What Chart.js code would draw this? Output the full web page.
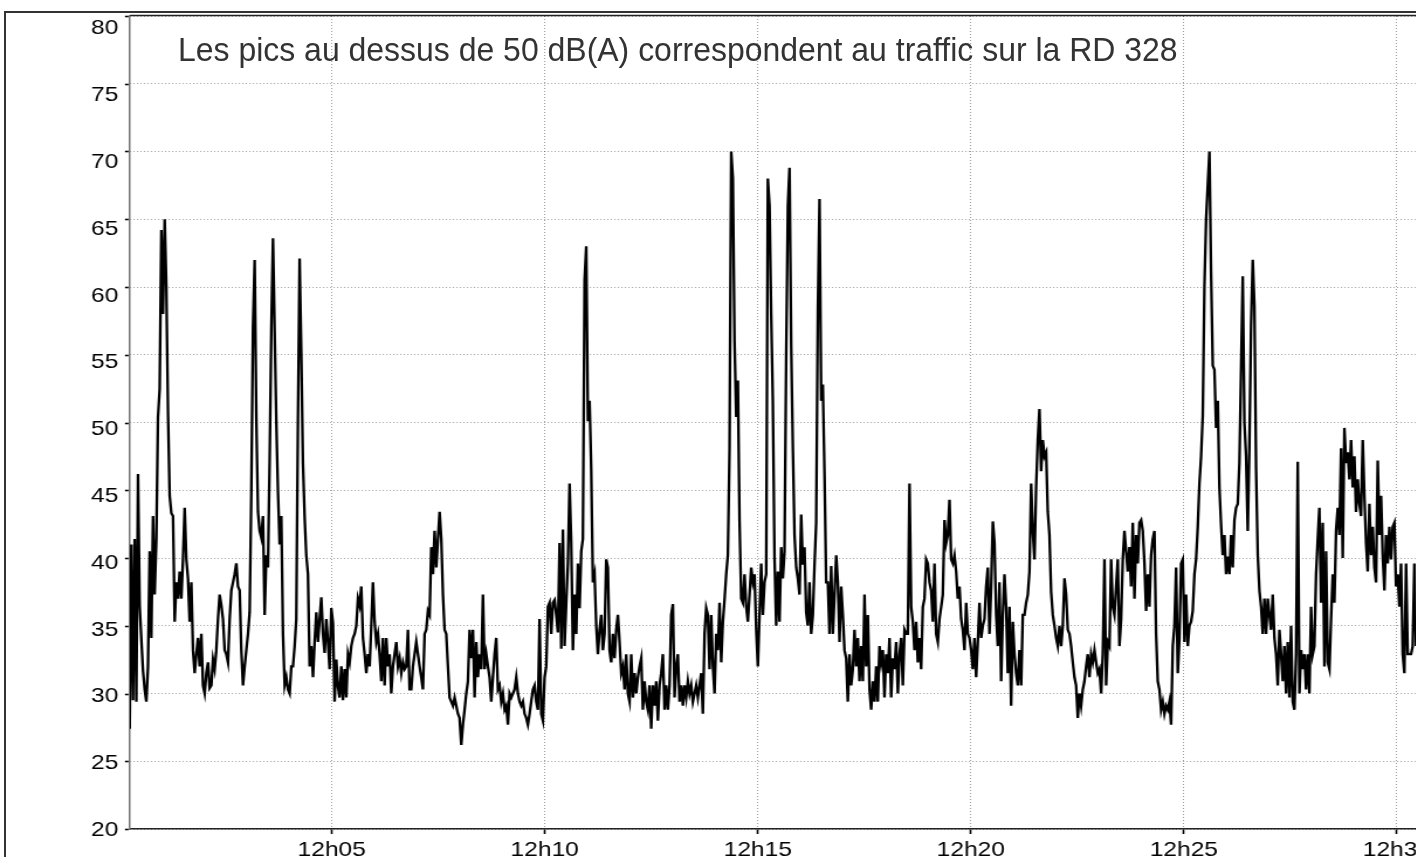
<!DOCTYPE html>
<html>
<head>
<meta charset="utf-8">
<script src="https://cdn.jsdelivr.net/npm/chart.js@4.4.1/dist/chart.umd.min.js"></script>
<style>
  html, body { margin: 0; padding: 0; background: #fff; }
  #page { position: relative; width: 1416px; height: 857px; overflow: hidden; background: #fff; }
  #frame { position: absolute; left: 4px; top: 11px; width: 1500px; height: 900px;
           border-left: 2px solid #333; border-top: 2px solid #333; }
  #plot { position: absolute; left: 0; top: 0; transform-origin: 0 0; }
  #title { position: absolute; left: 178px; top: 32px; font-family: "Liberation Sans", Arial, sans-serif;
           font-size: 34px; line-height: 34px; color: #333; white-space: nowrap;
           transform: scaleX(0.94); transform-origin: 0 0; }
</style>
</head>
<body>
<div id="page">
  <div id="frame"></div>
  <canvas id="plot"></canvas>
  <div id="title">Les pics au dessus de 50 dB(A) correspondent au traffic sur la RD 328</div>
</div>
<script>
// sound level dB(A), one reading every 2.35 s from 12h00m15.6s
const startSec = 15.58;
const stepSec = 2.3463;

const levels = [
  // 12h00 - 12h05
  27.4, 41.0, 29.5, 41.4, 29.4, 46.2, 36.5, 34.0, 31.7, 30.3,
  29.4, 32.0, 40.5, 34.1, 43.1, 37.3, 41.4, 50.4, 52.5, 64.2,
  58.0, 65.0, 60.0, 50.7, 44.6, 43.3, 43.1, 35.3, 38.2, 37.0,
  39.0, 37.0, 39.9, 43.7, 39.9, 38.5, 35.3, 38.2, 33.2, 31.5,
  32.9, 34.1, 32.0, 34.4, 30.6, 30.0, 31.5, 32.3, 30.4, 30.6,
  32.5, 31.8, 33.2, 35.5, 37.3, 36.5, 35.5, 33.2, 32.9, 32.3,
  35.5, 37.6, 38.2, 38.8, 39.6, 37.9, 37.6, 33.2, 30.6, 32.0,
  33.2, 34.4, 36.0, 45.0, 57.0, 62.0, 50.4, 43.4, 42.0, 41.5,
  43.1, 35.8, 40.2, 39.3, 47.2, 56.8, 63.6, 56.8, 50.0, 44.9,
  41.0, 43.1, 34.4, 30.6, 31.2, 30.3, 30.0, 32.0, 32.0, 33.5,
  35.5, 50.4, 62.1, 55.0, 47.0, 43.0, 40.2, 38.8, 32.0, 33.5,
  31.2, 33.8, 36.0, 33.8, 35.5, 37.1, 34.4, 33.0, 35.5, 33.8,
  31.8, 36.3, 35.2, 29.4, 32.5, 30.5, 29.7, 32.0,
  // 12h05 - 12h10
  29.5, 31.8, 29.7, 32.9, 32.3, 33.5, 34.1, 34.4, 35.0, 37.0,
  36.5, 37.9, 34.1, 32.9, 31.5, 32.9, 32.0, 35.0, 38.2, 35.3,
  33.8, 34.4, 32.9, 30.9, 34.1, 30.6, 34.1, 32.0, 32.9, 30.0,
  32.0, 32.9, 33.8, 32.0, 32.6, 31.5, 32.3, 31.8, 32.0, 34.7,
  30.3, 30.3, 32.0, 32.9, 33.8, 32.9, 32.0, 31.2, 30.3, 34.4,
  34.7, 36.1, 35.8, 40.8, 38.8, 42.0, 39.3, 41.4, 43.4, 41.4,
  37.3, 34.7, 34.4, 32.0, 29.7, 29.4, 29.1, 29.7, 29.1, 28.5,
  28.2, 26.2, 27.7, 28.8, 30.0, 30.9, 34.7, 32.6, 34.7, 29.7,
  33.8, 31.2, 32.9, 31.8, 37.3, 31.8, 32.9, 32.0, 31.2, 29.4,
  31.2, 32.9, 34.1, 30.3, 30.6, 29.4, 30.0, 28.8, 29.1, 27.7,
  30.0, 29.7, 30.0, 30.3, 31.2, 30.0, 29.4, 29.1, 29.4, 28.5,
  28.2, 27.7, 28.5, 29.4, 30.3, 30.6, 29.4, 28.8, 35.5, 28.5,
  28.0, 31.2, 32.0, 36.4, 36.7, 34.4, 36.7, 36.9, 35.8,
  // 12h10 - 12h15
  34.5, 41.1, 33.3, 42.1, 33.5, 36.7, 39.6, 45.5, 41.1, 33.2,
  37.3, 34.4, 39.6, 36.3, 40.5, 41.4, 60.5, 63.0, 50.1, 51.6,
  46.5, 38.2, 38.8, 35.0, 32.9, 34.7, 35.8, 33.2, 34.4, 39.9,
  39.3, 33.2, 32.3, 34.4, 32.6, 34.7, 35.8, 33.8, 31.5, 32.0,
  30.3, 32.9, 30.0, 29.4, 32.9, 29.7, 31.5, 30.0, 31.2, 32.0,
  32.6, 28.8, 30.9, 29.4, 28.8, 30.6, 27.4, 30.6, 29.1, 30.9,
  28.0, 30.6, 31.5, 32.9, 28.8, 30.6, 28.8, 30.6, 35.8, 36.6,
  29.7, 32.0, 32.9, 29.4, 30.6, 29.1, 30.6, 29.7, 30.9, 30.0,
  30.6, 29.4, 30.0, 30.6, 29.7, 30.6, 31.5, 28.5, 34.4, 36.3,
  35.8, 31.8, 35.8, 32.0, 30.0, 34.4, 33.2, 36.7, 32.3, 35.3,
  36.9, 38.8, 40.2, 48.1, 70.0, 68.0, 56.0, 50.4, 53.1, 42.8,
  37.0, 36.7, 38.8, 36.4, 35.3, 37.3, 39.3, 38.2, 38.8, 34.7,
  32.0, 35.8, 39.6, 35.8, 38.2, 38.8, 68.0, 66.0, 58.0,
  // 12h15 - 12h20
  51.5, 40.0, 35.0, 39.0, 35.3, 40.8, 38.5, 40.5, 55.0, 66.0,
  68.8, 55.7, 48.1, 41.7, 39.3, 38.5, 37.3, 43.2, 39.5, 40.8,
  36.0, 35.0, 38.2, 34.4, 35.8, 39.5, 42.6, 58.3, 66.5, 51.6,
  52.8, 46.1, 38.2, 38.2, 34.4, 39.4, 34.4, 37.3, 40.2, 38.2,
  33.8, 37.9, 35.8, 33.2, 32.6, 29.4, 32.9, 30.6, 31.8, 34.7,
  32.0, 34.1, 30.9, 33.5, 30.9, 37.3, 32.0, 35.8, 30.3, 28.8,
  30.9, 29.4, 32.0, 29.4, 33.5, 32.3, 33.2, 29.7, 32.9, 31.5,
  34.1, 29.7, 32.6, 31.8, 33.8, 30.0, 32.9, 34.1, 30.6, 34.7,
  34.4, 34.4, 45.5, 36.4, 35.3, 33.2, 35.3, 32.3, 34.1, 31.8,
  36.4, 37.0, 39.9, 39.6, 38.2, 37.6, 35.3, 39.6, 34.4, 33.8,
  35.5, 36.4, 37.3, 42.8, 41.1, 41.7, 44.3, 39.9, 39.6, 40.2,
  39.0, 37.0, 37.9, 35.5, 34.7, 33.2, 36.7, 34.4, 34.1, 33.2,
  31.8, 34.1, 31.2, 33.8, 36.7, 34.1, 35.0, 35.5, 37.9,
  // 12h20 - 12h25
  39.3, 34.4, 37.9, 42.7, 41.1, 35.8, 33.5, 38.2, 30.9, 35.8,
  38.8, 36.4, 31.5, 36.4, 29.1, 35.3, 32.9, 31.5, 30.6, 33.2,
  30.6, 35.8, 35.8, 36.7, 37.3, 39.0, 45.5, 42.0, 39.9, 45.2,
  48.7, 51.0, 46.4, 48.7, 47.5, 47.8, 43.4, 41.7, 37.5, 35.8,
  35.0, 34.1, 33.5, 35.0, 33.5, 35.0, 38.5, 37.3, 34.7, 34.4,
  33.5, 32.3, 31.2, 30.6, 28.2, 30.0, 29.1, 30.3, 30.9, 32.0,
  32.9, 31.2, 32.9, 32.3, 33.2, 32.3, 31.5, 31.8, 30.0, 32.9,
  39.9, 30.6, 33.8, 33.5, 39.9, 36.4, 35.8, 37.9, 39.9, 33.5,
  35.5, 39.9, 42.0, 40.5, 39.0, 40.8, 37.9, 42.6, 37.0, 41.7,
  39.6, 42.6, 42.8, 42.0, 39.6, 36.1, 38.8, 36.4, 40.2, 41.4,
  42.0, 34.4, 30.9, 30.3, 28.8, 29.4, 28.5, 29.1, 28.8, 29.4,
  27.7, 33.5, 35.0, 39.3, 31.5, 34.1, 39.6, 39.9, 33.8, 37.3,
  33.5, 35.0, 35.3, 36.1, 38.8, 39.9, 42.3, 45.5, 47.5,
  // 12h25 - 12h30
  50.5, 60.0, 65.0, 67.5, 70.0, 61.0, 54.2, 53.9, 49.6, 51.6,
  45.2, 42.4, 40.2, 41.7, 38.8, 40.1, 38.8, 41.7, 39.3, 42.8,
  43.7, 44.0, 47.0, 54.0, 60.8, 50.0, 47.5, 42.0, 48.4, 57.2,
  62.0, 58.6, 46.6, 40.2, 37.6, 36.4, 34.4, 37.0, 34.4, 37.0,
  35.8, 34.7, 37.3, 34.1, 32.9, 30.6, 34.7, 32.9, 30.9, 33.5,
  30.0, 33.8, 29.7, 35.0, 29.4, 28.8, 32.9, 47.1, 30.0, 33.2,
  31.8, 32.9, 30.3, 32.9, 30.0, 36.4, 32.9, 33.5, 38.8, 41.4,
  43.7, 36.7, 42.6, 32.0, 40.5, 32.3, 31.8, 35.5, 38.8, 36.7,
  42.0, 43.7, 41.7, 48.1, 40.0, 49.6, 47.0, 47.8, 45.8, 48.7,
  45.2, 47.5, 43.4, 45.8, 44.0, 43.1, 48.7, 44.6, 41.1, 39.0,
  44.0, 40.2, 42.3, 39.3, 38.2, 47.2, 41.7, 44.6, 40.2, 37.6,
  41.7, 39.6, 42.3, 39.9, 42.3, 42.6, 37.9, 38.8, 36.4, 39.6,
  32.9, 31.5, 39.6, 32.9, 32.9, 32.9, 33.5, 39.6, 33.5
];

const tickSecs = [300, 600, 900, 1200, 1500, 1800];
const tickLabels = ['12h05', '12h10', '12h15', '12h20', '12h25', '12h30'];
const yTicks = [20, 25, 30, 35, 40, 45, 50, 55, 60, 65, 70, 75, 80];

const points = levels.map((v, i) => ({ x: startSec + i * stepSec, y: v }));

// the original figure is stretched sideways: draw narrower, widen with CSS
const SX = 1.17;
const canvas = document.getElementById('plot');
canvas.width = Math.round(1464 / SX);
canvas.height = 880;
canvas.style.transform = 'scaleX(' + SX + ')';

const tickFont = { family: '"Liberation Sans", Arial, sans-serif', size: 21 };
const gridColor = 'rgba(0,0,0,0.38)';

// top frame of the plot and the small tick marks left of the y axis
const frameBits = {
  id: 'frameBits',
  afterDraw(chart) {
    const { ctx, chartArea } = chart;
    const yv = chart.scales.yv;
    ctx.save();
    ctx.strokeStyle = '#222';
    ctx.lineWidth = 1.5;
    ctx.beginPath();
    ctx.moveTo(chartArea.left, chartArea.top - 0.5);
    ctx.lineTo(chartArea.right, chartArea.top - 0.5);
    ctx.stroke();
    ctx.strokeStyle = '#000';
    ctx.lineWidth = 1.6;
    yTicks.forEach(v => {
      const py = Math.round(yv.getPixelForValue(v)) + 0.5;
      ctx.beginPath();
      ctx.moveTo(chartArea.left - 5 / SX, py);
      ctx.lineTo(chartArea.left - 1.5 / SX, py);
      ctx.stroke();
    });
    ctx.restore();
  }
};

new Chart(canvas, {
  type: 'line',
  data: {
    datasets: [{
      data: points,
      yAxisID: 'yv',
      borderColor: '#000',
      borderWidth: 2.3,
      pointRadius: 0,
      tension: 0,
      fill: false
    }]
  },
  options: {
    responsive: false,
    animation: false,
    devicePixelRatio: 1,
    layout: { padding: { left: 0, top: 16, right: 0, bottom: 0 } },
    plugins: { legend: { display: false }, tooltip: { enabled: false } },
    scales: {
      x: {
        type: 'linear',
        min: 16.05,
        max: 1894,
        afterBuildTicks: s => { s.ticks = tickSecs.map(v => ({ value: v })); },
        afterFit: s => { s.height = 51; },
        ticks: {
          font: tickFont, color: '#000', padding: 4, maxRotation: 0, autoSkip: false,
          callback: (v, i) => tickLabels[i]
        },
        grid: { color: gridColor, lineWidth: 1, tickLength: 5,
                tickColor: '#000', tickWidth: 1.6, tickBorderDash: [] },
        border: { display: true, color: '#222', width: 1.5, dash: [1, 2] }
      },
      // label axis: the printed labels creep slightly against the grid
      y: {
        position: 'left',
        min: 20.08,
        max: 80.95,
        afterBuildTicks: s => { s.ticks = yTicks.map(v => ({ value: v })); },
        afterFit: s => { s.width = 130 / SX; s.paddingTop = 0; s.paddingBottom = 0; },
        ticks: { font: tickFont, color: '#000', padding: 10, callback: v => String(v) },
        grid: { display: false, drawTicks: false },
        border: { display: true, color: '#777', width: 1.5 }
      },
      // value axis carrying the data and the dotted grid
      yv: {
        position: 'right',
        min: 20,
        max: 80,
        afterBuildTicks: s => { s.ticks = yTicks.map(v => ({ value: v })); },
        afterFit: s => { s.width = 0; },
        ticks: { display: false },
        grid: { color: gridColor, lineWidth: 1, drawTicks: false },
        border: { display: false, dash: [1, 2] }
      }
    }
  },
  plugins: [frameBits]
});
</script>
</body>
</html>
